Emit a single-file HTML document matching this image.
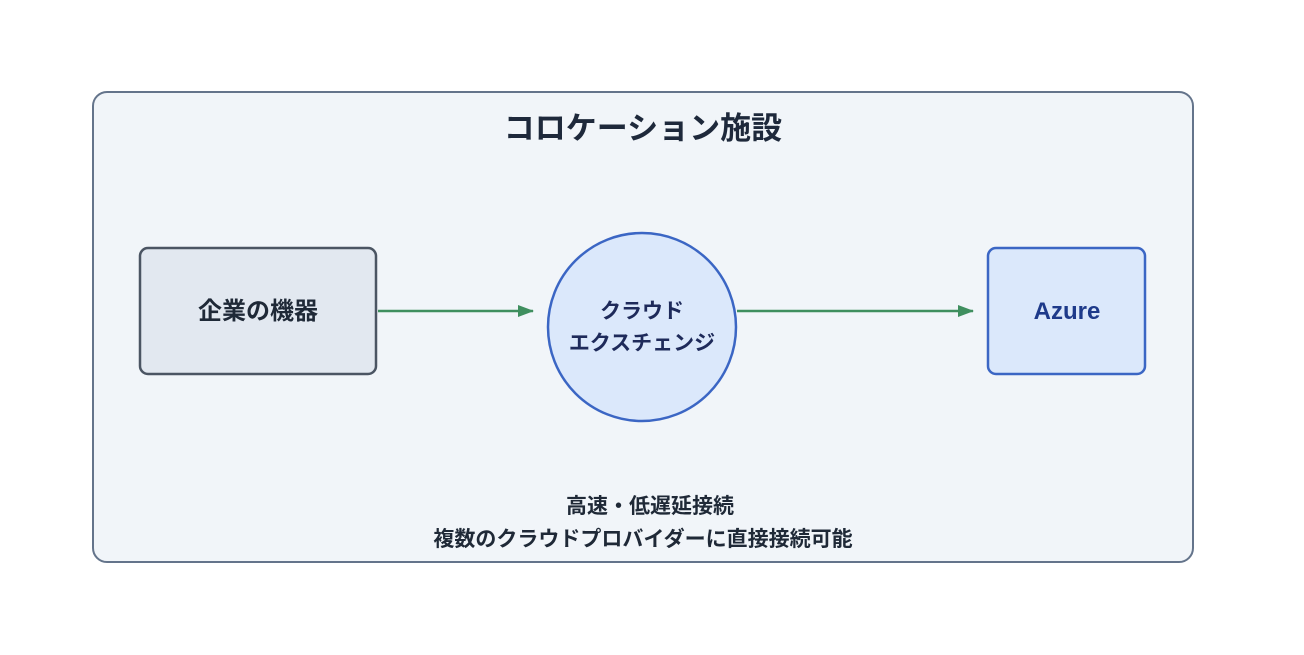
<!DOCTYPE html>
<html><head><meta charset="utf-8"><style>
html,body{margin:0;padding:0;background:#fff;}
svg text{font-family:"Liberation Sans","Noto Sans CJK JP",sans-serif;font-weight:bold;text-anchor:middle;}
</style></head><body>
<svg width="1304" height="650" viewBox="0 0 1304 650" xmlns="http://www.w3.org/2000/svg">
<defs><marker id="a" markerWidth="16" markerHeight="12" refX="15" refY="6" orient="auto" markerUnits="userSpaceOnUse"><path d="M0,0 L16,6 L0,12 z" fill="#3f8f5f"/></marker></defs>
<rect x="93" y="92" width="1100" height="470" rx="14" fill="#f1f5f9" stroke="#64748b" stroke-width="2"/>
<text x="643" y="139" font-size="31" fill="#1e293b">コロケーション施設</text>
<rect x="140" y="248" width="236" height="126" rx="8" fill="#e2e8f0" stroke="#4b5563" stroke-width="2.5"/>
<text x="258" y="319" font-size="24" fill="#1f2937">企業の機器</text>
<line x1="378" y1="311" x2="533" y2="311" stroke="#3f8f5f" stroke-width="2.5" marker-end="url(#a)"/>
<circle cx="642" cy="327" r="94" fill="#dbe8fb" stroke="#3b66c4" stroke-width="2.5"/>
<text x="642" y="318" font-size="21" fill="#1e2a5a">クラウド</text>
<text x="642" y="350" font-size="21" fill="#1e2a5a">エクスチェンジ</text>
<line x1="737" y1="311" x2="973" y2="311" stroke="#3f8f5f" stroke-width="2.5" marker-end="url(#a)"/>
<rect x="988" y="248" width="157" height="126" rx="8" fill="#dbe8fb" stroke="#3b66c4" stroke-width="2.5"/>
<text x="1067" y="319" font-size="24" fill="#1e3a8a">Azure</text>
<text x="650" y="513" font-size="21" fill="#1f2937">高速・低遅延接続</text>
<text x="643" y="546" font-size="21" fill="#1f2937">複数のクラウドプロバイダーに直接接続可能</text>
</svg>
</body></html>
